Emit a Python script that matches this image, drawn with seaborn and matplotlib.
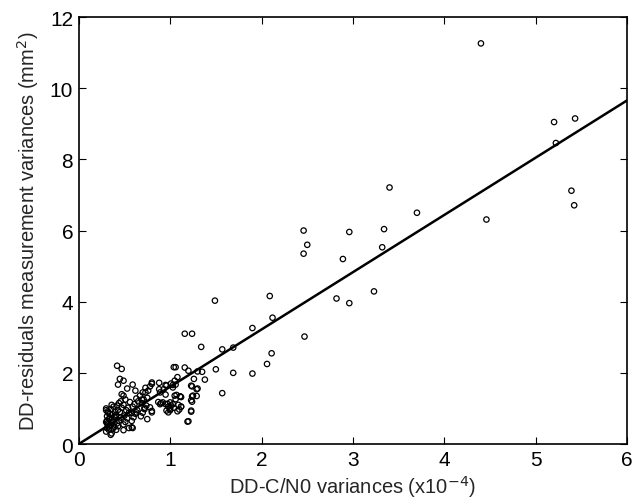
import matplotlib
matplotlib.use("Agg")
import matplotlib.pyplot as plt
import seaborn as sns
import pandas as pd

# Scatter points: DD-C/N0 variances (x1e-4) vs DD-residual variances (mm^2)
x_outer = [4.40, 5.20, 5.43, 5.22, 5.39, 5.42, 4.46, 3.70, 3.40, 3.34, 3.32, 2.96,
           2.89, 2.46, 2.50, 2.46, 3.23, 2.82, 2.96, 2.47, 2.09, 2.12, 1.90, 1.49]
y_outer = [11.26, 9.05, 9.15, 8.46, 7.12, 6.71, 6.31, 6.50, 7.21, 6.04, 5.53, 5.96,
           5.20, 6.00, 5.60, 5.35, 4.29, 4.09, 3.96, 3.02, 4.16, 3.55, 3.26, 4.03]

x_mid = [1.16, 1.24, 1.34, 1.57, 1.69, 2.11, 2.06, 1.90, 1.69, 1.50, 1.57, 1.16, 1.20,
         1.30, 1.35, 1.26, 1.38, 1.24, 1.30, 1.12, 1.24, 1.29, 1.12, 1.23, 1.23, 1.19,
         1.04, 1.06, 1.05, 1.08, 1.03, 1.01, 0.95, 0.88, 0.80, 0.80, 0.89, 0.95, 1.07,
         1.11, 1.24, 0.89, 0.92, 0.95, 1.00, 1.03, 1.09, 1.12, 0.96, 0.98, 1.00, 1.08,
         0.78, 0.80, 0.80, 0.75, 0.63, 0.58, 0.58, 0.59, 0.55, 0.49, 0.35,
         0.96, 0.93, 0.88, 1.06, 1.03, 1.23, 1.29, 1.25, 1.05, 1.11, 1.06, 0.87, 0.90,
         0.97, 1.01, 1.04, 0.98, 1.00, 1.10, 1.23, 1.20]
y_mid = [3.10, 3.10, 2.73, 2.66, 2.71, 2.55, 2.25, 1.98, 2.00, 2.10, 1.43, 2.15, 2.06,
         2.04, 2.03, 1.83, 1.81, 1.62, 1.56, 1.32, 1.34, 1.35, 1.05, 1.23, 0.91, 0.63,
         2.16, 2.16, 1.78, 1.88, 1.66, 1.70, 1.66, 1.72, 1.73, 1.69, 1.45, 1.39, 1.38,
         1.34, 1.19, 1.12, 1.17, 1.12, 1.17, 1.12, 1.10, 1.05, 0.94, 0.89, 0.95, 0.92,
         1.03, 0.93, 0.89, 0.70, 0.89, 0.87, 0.47, 0.45, 0.45, 0.39, 0.26,
         1.64, 1.54, 1.54, 1.67, 1.59, 1.64, 1.54, 1.36, 1.36, 1.33, 1.26, 1.18, 1.15,
         1.13, 1.08, 1.02, 1.05, 0.99, 0.97, 0.94, 0.64]

x_left = [0.42, 0.47, 0.45, 0.49, 0.43, 0.59, 0.53, 0.47, 0.49, 0.67,
          0.62, 0.70, 0.73, 0.78, 0.69, 0.72]
y_left = [2.20, 2.11, 1.83, 1.78, 1.67, 1.67, 1.56, 1.40, 1.36, 1.36,
          1.50, 1.45, 1.58, 1.62, 1.25, 1.02]

x_dense = [0.30, 0.31, 0.32, 0.30, 0.33, 0.31, 0.34, 0.32, 0.30, 0.33, 0.31, 0.34,
           0.32, 0.30, 0.33, 0.31,
           0.36, 0.37, 0.35, 0.38, 0.36, 0.39, 0.37, 0.40, 0.35, 0.38, 0.36, 0.39,
           0.37, 0.40,
           0.41, 0.43, 0.42, 0.44, 0.46, 0.41, 0.45, 0.43, 0.47, 0.42, 0.44, 0.46,
           0.49, 0.51, 0.53, 0.50, 0.55, 0.52, 0.54, 0.49, 0.56, 0.51,
           0.58, 0.60, 0.62, 0.64, 0.59, 0.61, 0.65, 0.63,
           0.68, 0.70, 0.72, 0.74, 0.69, 0.71, 0.75, 0.73, 0.76]
y_dense = [0.35, 0.45, 0.55, 0.62, 0.70, 0.78, 0.85, 0.92, 1.00, 0.50, 0.66, 0.74,
           0.88, 0.95, 0.40, 0.58,
           0.30, 0.42, 0.52, 0.60, 0.68, 0.76, 0.84, 0.90, 0.98, 1.05, 1.10, 0.48,
           0.64, 0.80,
           0.40, 0.50, 0.58, 0.66, 0.74, 0.82, 0.90, 0.96, 1.02, 1.08, 1.15, 1.20,
           0.55, 0.62, 0.72, 0.80, 0.88, 0.95, 1.02, 1.10, 1.18, 1.25,
           0.65, 0.75, 0.85, 0.95, 1.05, 1.12, 1.20, 1.28,
           0.78, 0.88, 0.98, 1.08, 1.15, 1.25, 1.30, 1.45, 1.50]

# Fitted line
fit_x = [0.0, 6.0]
fit_y = [0.0, 9.66]

x_tick_vals = [0, 1, 2, 3, 4, 5, 6]
y_tick_vals = [0, 2, 4, 6, 8, 10, 12]

df = pd.DataFrame({
    "x": x_outer + x_mid + x_left + x_dense,
    "y": y_outer + y_mid + y_left + y_dense,
})
fit_df = pd.DataFrame({"x": fit_x, "y": fit_y})

sns.set_style("ticks")
plt.rcParams["font.family"] = ["Liberation Sans", "DejaVu Sans"]

fig = plt.figure(figsize=(6.4, 5.02), dpi=100)
ax = fig.add_axes([0.123, 0.1135, 0.857, 0.8505])

sns.scatterplot(data=df, x="x", y="y", ax=ax, marker="o", s=15,
                facecolor="none", edgecolor="black", linewidth=0.9)
sns.lineplot(data=fit_df, x="x", y="y", ax=ax, color="black", linewidth=1.8)

ax.set_xlim(0, 6)
ax.set_ylim(0, 12)
ax.set_xticks(x_tick_vals)
ax.set_yticks(y_tick_vals)
ax.tick_params(direction="in", top=True, right=True, length=5, width=0.8,
               labelsize=15, colors="black", pad=4)
for s in ax.spines.values():
    s.set_linewidth(1.2)
    s.set_color("black")

ax.set_xlabel("DD-C/N0 variances (x10$^{-4}$)", fontsize=14.5, labelpad=3)
ax.set_ylabel("DD-residuals measurement variances (mm$^{2}$)", fontsize=14.5, labelpad=6)

fig.savefig("out.png", dpi=100, facecolor="white")
